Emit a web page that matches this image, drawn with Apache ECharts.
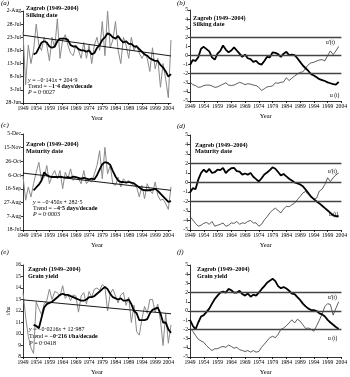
<!DOCTYPE html>
<html><head><meta charset="utf-8">
<script src="https://cdn.jsdelivr.net/npm/echarts@6/dist/echarts.min.js"></script>
<style>html,body{margin:0;padding:0;background:#fff}#c{width:350px;height:377px}</style>
</head><body><div id="c"></div><script>
// ---------- DATA ----------
// categories
const yearsLong = []; for (let y = 1949; y <= 2005; y++) yearsLong.push(String(y)); // panels a,c,e
const yearsShort = yearsLong.slice(0, 56);                                          // panels b,d,f (1949-2004)

// (a) silking date, days after 28 Jun, annual 1949-2005
const silkAnnual = [27,7,22,15,20,30,22,20,25,22,16,25,21,32,17,24,26,22,19,18,22,20,17,23,17,22,15,22,25,20,31,18,35,21,24,31,20,15,25,22,17,25,20,22,19,17,19,17,12,21,13,17,6,15,9,2,24];
// (a) 5-yr moving average 1953-2005
const silkMA = [18.5,19,21,23,23.5,23,21.5,21,21.5,23.5,24.5,24.5,24.5,24,22,21.5,21.5,20.5,20,20,19.5,20,18.5,19,21,22,24,25,26.5,26,25,24.5,25.5,24,23,23.5,22.5,22.5,21.5,21.5,20.5,19.5,18.5,18,17,16.5,16,16,14.5,13.5,12,10,11];
const silkTrend = [25.8, 17.9]; // 1949, 2005

// (c) maturity date, days after 18 Jul
const matAnnual = [78.6,43.4,62.7,48.2,67.5,84.3,98.8,72.3,77.1,94,67.5,79.5,86.7,74.7,86.7,60.2,84.3,74.7,89.2,72.3,77.1,74.7,67.5,86.7,67.5,72.3,69.9,81.9,94,115.7,74.7,120.5,81.9,94,67.5,65,77,62.7,74.7,69.9,72.3,67.5,65,62.7,48.2,65,45.8,67.5,57.8,53,69.9,50.6,43.4,45,38,30,63];
const matMA = [57.8,62,66,72.3,84,80,78,77,77.5,77,78,77,76.5,77,76,78,77,76,75,76,75,74,75,74,80,88,96,99,98,95,86,78,72,70,70,69,70,69,68,65,62,59,58,58,58,59,60,57,53,49,45,41,42];
const matTrend = [83.0, 57.9];

// (e) grain yield t/ha
const yieldAnnual = [13.6,11.5,9.8,8.8,8.3,12.8,12.2,11.7,12.6,12.9,13.9,13.0,13.7,13.6,13.3,14.2,13.1,13.4,12.9,13.4,13.3,11.9,13.3,13.6,12.6,13.7,13.2,13.9,14.0,13.8,14.3,14.1,12.0,13.5,13.9,13.3,12.7,13.4,13.6,12.5,13.2,11.0,12.5,10.2,9.9,11.3,12.4,11.8,13.0,13.0,11.9,12.6,11.2,9.0,11.8,9.2,10.8];
const yieldMA = [10.8,10.7,10.5,11.4,12.3,12.6,12.7,12.8,13.0,13.2,13.4,13.5,13.4,13.4,13.3,13.2,13.1,13.0,12.9,12.9,13.0,13.2,13.2,13.3,13.5,13.7,13.9,14.1,13.9,13.5,13.2,13.1,13.0,13.1,12.9,12.9,13.0,12.6,12.0,11.8,11.2,11.2,11.2,11.3,11.8,12.1,12.2,12.3,11.8,11.0,11.0,10.4,10.1];
const yieldTrend = [12.97, 11.76];

// Mann-Kendall u(t), u'(t) 1949-2003
const uSilk = [-1.05,-0.5,-0.6,-0.2,0.75,0.95,0.7,0.45,-0.2,-0.45,0.2,0.5,1.1,0.65,0.35,0.55,0.9,0.55,0.2,-0.15,0.1,-0.3,-0.4,-0.7,-0.6,-0.9,-1.0,-0.6,-0.15,-0.2,0.35,0.3,0.15,-0.15,0.2,0.4,0.05,0.1,0.05,-0.3,-0.7,-1.1,-1.4,-1.7,-2.05,-2.2,-2.4,-2.6,-2.7,-2.8,-2.95,-3.05,-3.15,-3.2,-2.9];
const upSilk = [-2.9,-3.2,-3.3,-3.5,-3.45,-3.3,-3.25,-3.25,-3.35,-3.5,-3.45,-3.3,-3.15,-3.0,-3.25,-3.3,-3.25,-3.1,-2.95,-3.05,-3.2,-3.1,-3.15,-3.25,-3.3,-3.5,-3.85,-3.65,-3.45,-3.4,-3.35,-3.0,-3.05,-2.95,-2.9,-2.45,-2.75,-2.5,-2.25,-2.05,-1.85,-1.8,-1.4,-1.0,-0.8,-0.75,-0.6,-0.5,-0.45,-0.6,0.0,0.5,0.1,0.5,1.0];
const uMat = [-1.04,-0.6,-0.7,0.3,1.0,1.36,1.08,1.43,1.0,1.08,1.36,1.3,1.54,1.0,1.3,1.5,1.54,1.2,1.15,0.83,0.95,0.83,1.0,0.6,0.35,0.1,0.45,0.85,1.05,1.3,1.6,1.45,1.1,0.75,0.9,0.65,0.4,0.2,0.0,-0.1,-0.2,-0.4,-0.75,-1.1,-1.5,-1.75,-2.0,-2.2,-2.45,-2.7,-2.95,-3.2,-3.45,-3.55,-3.55];
const upMat = [-3.6,-3.94,-4.3,-4.6,-4.5,-4.3,-4.2,-4.4,-4.1,-4.6,-4.5,-4.4,-4.25,-4.6,-4.5,-4.25,-4.3,-4.1,-4.4,-4.25,-4.3,-4.1,-4.0,-4.25,-4.25,-4.6,-4.4,-3.94,-3.6,-3.2,-2.9,-2.7,-2.95,-3.2,-2.8,-2.5,-2.55,-2.35,-2.17,-1.8,-1.47,-1.1,-0.94,-1.3,-1.54,-1.75,-1.64,-0.9,-0.7,-0.2,0.5,0.1,0.5,0.8,1.0];
const uYield = [-0.96,-1.6,-2.0,-1.25,-0.6,-0.45,-0.1,0.26,0.8,1.3,1.67,2.0,2.1,2.0,2.4,2.26,2.0,2.0,2.2,1.84,1.67,1.9,1.56,1.77,1.67,2.0,2.37,2.7,3.07,3.3,3.5,3.25,2.7,2.47,2.6,2.44,2.2,1.9,1.84,1.5,1.2,0.8,0.5,0.26,0.1,0.1,0.0,-0.26,-0.37,-0.6,-0.96,-1.25,-1.5,-1.74,-1.95];
const upYield = [-1.85,-2.2,-2.65,-3.07,-3.25,-3.4,-3.77,-4.05,-4.3,-4.1,-4.1,-3.95,-3.85,-3.95,-3.7,-3.85,-4.05,-3.95,-4.2,-4.3,-4.4,-4.3,-4.47,-4.3,-4.47,-4.4,-3.95,-3.6,-3.25,-2.9,-2.75,-2.9,-2.54,-2.0,-1.85,-1.6,-1.3,-0.96,-1.3,-0.9,-1.1,-1.5,-1.9,-1.85,-2.0,-2.2,-1.6,-1.0,-0.3,0.5,0.8,0.7,-0.45,0.3,1.0];

const refLevels = [2, 0, -2];

// ---------- CHART ----------
const FONT = 'Liberation Serif';
const MON = ['Jan','Feb','Mar','Apr','May','Jun','Jul','Aug','Sep','Oct','Nov','Dec'];
const dateFmt = (m, d) => v => { const dt = new Date(2001, m, d + v); return dt.getDate() + '-' + MON[dt.getMonth()]; };
const padMA = a => Array(4).fill(null).concat(a);

const grids = [
  {left: 23, top: 11, width: 148, height: 92},
  {left: 190, top: 10, width: 153, height: 91},
  {left: 23, top: 134, width: 148, height: 96},
  {left: 190, top: 135, width: 153, height: 95},
  {left: 23, top: 265, width: 148, height: 94},
  {left: 190, top: 265, width: 153, height: 95}
];
const lab = {fontFamily: FONT, fontSize: 5.6, color: '#000', hideOverlap: false};
function xAx(i, cats) {
  return {gridIndex: i, type: 'category', data: cats, boundaryGap: false,
    axisLine: {onZero: false, lineStyle: {color: '#000', width: 0.8}},
    axisTick: {interval: idx => idx % 5 === 0, length: 2, lineStyle: {color: '#000', width: 0.8}},
    axisLabel: Object.assign({interval: idx => idx % 5 === 0, margin: 3}, lab),
    name: 'Year', nameLocation: 'middle', nameGap: 12,
    nameTextStyle: {fontFamily: FONT, fontSize: 6.5, color: '#000'}, splitLine: {show: false}};
}
function yAx(i, min, max, step, fmt) {
  const o = {gridIndex: i, type: 'value', min: min, max: max, interval: step,
    axisLine: {show: true, onZero: false, lineStyle: {color: '#000', width: 0.8}},
    axisTick: {show: true, length: 2, lineStyle: {color: '#000', width: 0.8}},
    axisLabel: Object.assign({margin: 2}, lab), splitLine: {show: false}};
  if (fmt) o.axisLabel.formatter = fmt;
  return o;
}
const xAxis = [xAx(0, yearsLong), xAx(1, yearsShort), xAx(2, yearsLong), xAx(3, yearsShort), xAx(4, yearsLong), xAx(5, yearsShort)];
const yAxis = [
  yAx(0, 0, 35, 5, dateFmt(5, 28)),
  yAx(1, -5, 5, 1),
  yAx(2, 0, 140, 20, dateFmt(6, 18)),
  yAx(3, -5, 5, 1),
  yAx(4, 8, 16, 1),
  yAx(5, -5, 5, 1)
];
yAxis[4].name = 't/ha'; yAxis[4].nameLocation = 'middle'; yAxis[4].nameGap = 10;
yAxis[4].nameTextStyle = {fontFamily: FONT, fontSize: 5.6, color: '#000'};

const series = [];
function leftPanel(i, annual, ma, trend) {
  series.push({type: 'line', xAxisIndex: i, yAxisIndex: i, data: annual, symbol: 'none', silent: true,
    lineStyle: {color: '#8a8a8a', width: 1}, z: 2});
  series.push({type: 'line', xAxisIndex: i, yAxisIndex: i, data: padMA(ma), symbol: 'none', silent: true,
    lineStyle: {color: '#000', width: 1.8}, z: 3});
  series.push({type: 'line', xAxisIndex: i, yAxisIndex: i, data: [[yearsLong[0], trend[0]], [yearsLong[56], trend[1]]],
    symbol: 'none', silent: true, lineStyle: {color: '#000', width: 0.9}, z: 4});
}
function rightPanel(i, u, up) {
  series.push({type: 'line', xAxisIndex: i, yAxisIndex: i, data: up, symbol: 'none', silent: true,
    lineStyle: {color: '#333', width: 0.8}, z: 2});
  series.push({type: 'line', xAxisIndex: i, yAxisIndex: i, data: u, symbol: 'none', silent: true,
    lineStyle: {color: '#000', width: 1.8}, z: 3,
    markLine: {silent: true, symbol: 'none', label: {show: false},
      lineStyle: {color: '#444', width: 1.3, type: 'solid'}, data: refLevels.map(v => ({yAxis: v}))}});
}
leftPanel(0, silkAnnual, silkMA, silkTrend);
rightPanel(1, uSilk, upSilk);
leftPanel(2, matAnnual, matMA, matTrend);
rightPanel(3, uMat, upMat);
leftPanel(4, yieldAnnual, yieldMA, yieldTrend);
rightPanel(5, uYield, upYield);

const rich = {i: {fontStyle: 'italic', fontFamily: FONT, fontSize: 6}, b: {fontWeight: 'bold', fontFamily: FONT, fontSize: 6}, n: {fontFamily: FONT, fontSize: 6}};
function T(x, y, text, opts) {
  return {type: 'text', left: x, top: y, silent: true,
    style: Object.assign({text: text, fontFamily: FONT, fontSize: 6, fill: '#000'}, opts || {})};
}
function R(x, y, text) { return {type: 'text', left: x, top: y, silent: true, style: {text: text, rich: rich, fontFamily: FONT, fontSize: 6, fill: '#000'}}; }
const bold = {fontWeight: 'bold', fontSize: 6.2};
const pl = {fontStyle: 'italic', fontSize: 7};
const graphic = [
  T(1, 0, '(a)', pl), T(177, 0, '(b)', pl), T(1, 122, '(c)', pl), T(177, 123, '(d)', pl), T(1, 249, '(e)', pl), T(177, 249, '(f)', pl),
  T(26, 5, 'Zagreb (1949–2004)', bold), T(26, 12, 'Silking date', bold),
  R(28, 77, '{i|y}{n| = −0·141}{i|x}{n| + 204·9}'),
  R(28, 83, '{n|Trend = }{b|−1·4 days/decade}'),
  R(28, 89, '{i|P}{n| = 0·0027}'),
  T(193, 15, 'Zagreb (1949–2004)', bold), T(193, 21, 'Silking date', bold),
  T(326, 40, 'u\'(t)', {fontSize: 5.5}), T(330, 93, 'u (t)', {fontSize: 5.5}),
  T(26, 141, 'Zagreb (1949–2004)', bold), T(26, 148, 'Maturity date', bold),
  R(33, 199, '{i|y}{n| = −0·450}{i|x}{n| + 282·5}'),
  R(33, 205, '{n|Trend = }{b|−4·5 days/decade}'),
  R(33, 211, '{i|P}{n| = 0·0003}'),
  T(195, 142, 'Zagreb (1949–2004)', bold), T(195, 148, 'Maturity date', bold),
  T(328, 169, 'u\'(t)', {fontSize: 5.5}), T(329, 212, 'u (t)', {fontSize: 5.5}),
  T(28, 266, 'Zagreb (1949–2004)', bold), T(28, 273, 'Grain yield', bold),
  R(29, 326, '{i|y}{n| = −0·0216}{i|x}{n| + 12·987}'),
  R(29, 333, '{n|Trend = }{b|−0·216 t/ha/decade}'),
  R(29, 340, '{i|P}{n| = 0·0418}'),
  T(197, 266, 'Zagreb (1949–2004)', bold), T(197, 273, 'Grain yield', bold),
  T(328, 295, 'u\'(t)', {fontSize: 5.5}), T(328, 336, 'u (t)', {fontSize: 5.5})
];

const chart = echarts.init(document.getElementById('c'), null, {renderer: 'canvas'});
chart.setOption({animation: false, backgroundColor: '#fff', grid: grids, xAxis: xAxis, yAxis: yAxis, series: series, graphic: graphic});
</script></body></html>
